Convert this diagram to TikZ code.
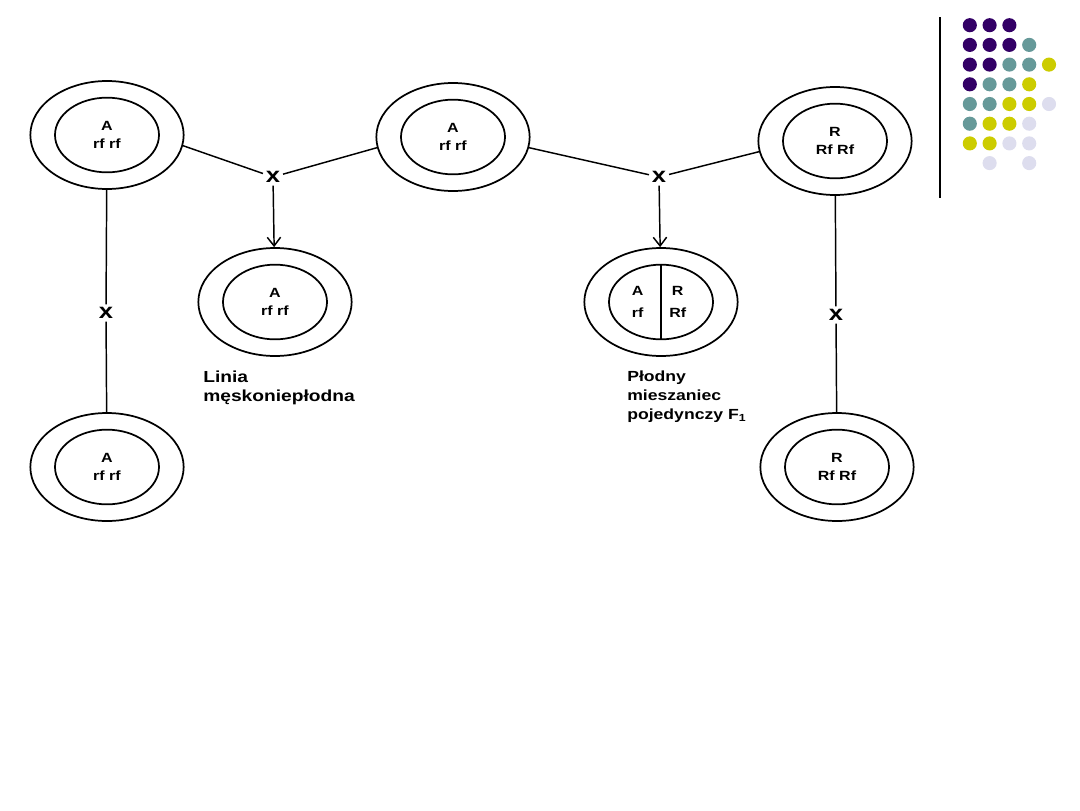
\documentclass[tikz,border=0pt]{standalone}
\usepackage{fontspec}
\setmainfont{Liberation Sans}
\newfontfamily\scanfont[FakeStretch=1.2]{Liberation Sans}
\usepackage{tikz}
\usetikzlibrary{arrows.meta,positioning,shapes.geometric}
\definecolor{dpurple}{HTML}{330066}
\definecolor{dteal}{HTML}{669999}
\definecolor{dolive}{HTML}{CCCC00}
\definecolor{dlav}{HTML}{DDDDEE}

\tikzset{
  outerring/.style={ellipse,draw,line width=1.3pt,minimum width=115pt,minimum height=81pt,inner sep=0pt},
  innerring/.style={ellipse,draw,line width=1.3pt,minimum width=78pt,minimum height=56pt,inner sep=0pt,
    align=center,font=\scanfont\bfseries\fontsize{10}{13.5}\selectfont},
  halftext/.style={inner sep=0pt,align=center,font=\scanfont\bfseries\fontsize{10}{17}\selectfont},
  cross/.style={inner sep=2pt,font=\scanfont\bfseries\fontsize{16}{16}\selectfont},
  caption/.style={anchor=north west,inner sep=0pt,align=left,font=\scanfont\bfseries\fontsize{11}{14}\selectfont},
  link/.style={line width=1.1pt},
  descent/.style={line width=1.1pt,-{Straight Barb[length=6.5pt,width=10pt]}}
}

\begin{document}
\begin{tikzpicture}[x=0.75pt,y=-0.75pt]
  \useasboundingbox (0,0) rectangle (1080,810);

  % parent lines (top row)
  \node[outerring] (P1) at (107,135) {};
  \node[innerring] (P1i) at (P1) {A\\rf rf};
  \node[outerring] (P2) at (453,137) {};
  \node[innerring] (P2i) at (P2) {A\\rf rf};
  \node[outerring] (P3) at (835,141) {};
  \node[innerring] (P3i) at (P3) {R\\Rf Rf};

  % offspring of the crosses
  \node[outerring] (C1) at (275,302) {};
  \node[innerring] (C1i) at (C1) {A\\rf rf};
  \node[outerring] (C2) at (661,302) {};
  \node[innerring] (C2i) at (C2) {};
  \draw[line width=1.3pt] (C2i.north) -- (C2i.south);
  \node[halftext,left=13pt of C2i.center] (C2a) {A\\rf};
  \node[halftext,right=6pt of C2i.center] (C2b) {R\\Rf};

  % maintained lines (bottom row)
  \node[outerring] (B1) at (107,467) {};
  \node[innerring] (B1i) at (B1) {A\\rf rf};
  \node[outerring] (B2) at (837,467) {};
  \node[innerring] (B2i) at (B2) {R\\Rf Rf};

  % crosses
  \node[cross] (x1) at (273,177) {x};
  \node[cross] (x2) at (659,177) {x};
  \node[cross] (x3) at (106,313) {x};
  \node[cross] (x4) at (836,315) {x};

  \draw[link] (P1.-8) -- (x1);
  \draw[link] (P2.188) -- (x1);
  \draw[descent] (x1) -- (C1);

  \draw[link] (P2.-8) -- (x2);
  \draw[link] (P3.188) -- (x2);
  \draw[descent] (x2) -- (C2);

  \draw[link] (P1) -- (x3);
  \draw[link] (x3) -- (B1);
  \draw[link] (P3) -- (x4);
  \draw[link] (x4) -- (B2);

  % captions
  \node[caption,font=\scanfont\bfseries\fontsize{12}{14}\selectfont] (capC1) at (203,371) {Linia\\męskoniepłodna};
  \node[caption] (capC2) at (627,371) {Płodny\\mieszaniec\\pojedynczy F\textsubscript{1}};

  % corner decoration
  \draw[line width=1.2pt] (940,17) -- (940,198);
  \foreach \c/\r/\col in {1/1/dpurple,2/1/dpurple,3/1/dpurple,
      1/2/dpurple,2/2/dpurple,3/2/dpurple,4/2/dteal,
      1/3/dpurple,2/3/dpurple,3/3/dteal,4/3/dteal,5/3/dolive,
      1/4/dpurple,2/4/dteal,3/4/dteal,4/4/dolive,
      1/5/dteal,2/5/dteal,3/5/dolive,4/5/dolive,5/5/dlav,
      1/6/dteal,2/6/dolive,3/6/dolive,4/6/dlav,
      1/7/dolive,2/7/dolive,3/7/dlav,4/7/dlav,
      2/8/dlav,4/8/dlav}
    \fill[\col] (950+19.8*\c,5.5+19.7*\r) circle (5.3pt);
\end{tikzpicture}
\end{document}
